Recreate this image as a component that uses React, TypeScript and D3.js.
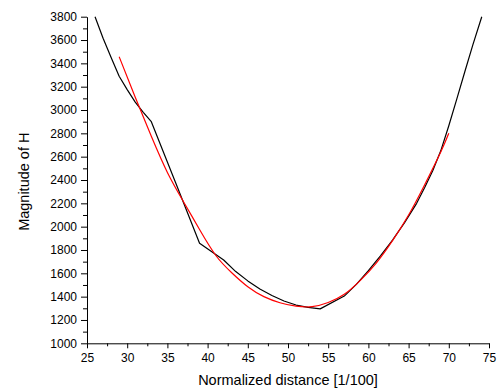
import React, { useRef, useEffect } from 'react';
import * as d3 from 'd3';

// measured curve (black)
const measuredX = [26, 27, 28, 29, 30, 31, 32, 33, 36, 39, 42, 43.5, 45, 46.5, 48, 49.5, 51, 52.5, 54, 57, 58.5, 60, 61.5, 63, 64.5, 66, 67, 68, 69, 70, 71, 72, 73, 74.1];
const measuredY = [3800, 3615, 3450, 3290, 3175, 3068, 2980, 2900, 2380, 1858, 1714, 1615, 1535, 1465, 1410, 1363, 1328, 1308, 1295, 1405, 1505, 1623, 1750, 1885, 2035, 2200, 2335, 2480, 2650, 2865, 3095, 3330, 3560, 3800];

// fitted curve (red)
const fitX = [29, 31, 33, 35, 37, 39, 41, 43, 45, 47, 49, 51, 53, 55, 57, 59, 61, 63, 65, 67, 69, 70];
const fitY = [3457, 3110, 2775, 2465, 2214, 1975, 1755, 1605, 1485, 1400, 1348, 1318, 1314, 1350, 1420, 1540, 1690, 1880, 2100, 2360, 2640, 2800];

const xTicks = [25, 30, 35, 40, 45, 50, 55, 60, 65, 70, 75];
const yTicks = [1000, 1200, 1400, 1600, 1800, 2000, 2200, 2400, 2600, 2800, 3000, 3200, 3400, 3600, 3800];

const xLabel = 'Normalized distance [1/100]';
const yLabel = 'Magnitude of H';

const W = 503;
const H = 391;
const font = '"Liberation Sans", Arial, sans-serif';

const Chart = () => {
  const svgRef = useRef<SVGSVGElement>(null);

  useEffect(() => {
    const svg = d3.select(svgRef.current);
    svg.selectAll('*').remove();

    const left = 87;
    const right = 489;
    const top = 16.7;
    const bottom = 343.3;

    const x = d3.scaleLinear().domain([25, 75]).range([left, right]);
    const y = d3.scaleLinear().domain([1000, 3800]).range([bottom, top]);

    const minorX = d3.range(25, 75.01, 2.5).filter((v) => !xTicks.includes(v));
    const minorY = d3.range(1000, 3800.01, 100).filter((v) => !yTicks.includes(v));

    // minor ticks
    svg.append('g')
      .attr('transform', `translate(0, ${bottom})`)
      .call(d3.axisBottom(x).tickValues(minorX).tickSize(3).tickFormat(() => '').tickSizeOuter(0))
      .call((g) => g.select('.domain').remove());
    svg.append('g')
      .attr('transform', `translate(${left}, 0)`)
      .call(d3.axisLeft(y).tickValues(minorY).tickSize(4).tickFormat(() => '').tickSizeOuter(0))
      .call((g) => g.select('.domain').remove());

    // major axes
    const xAxis = svg.append('g')
      .attr('transform', `translate(0, ${bottom})`)
      .call(d3.axisBottom(x).tickValues(xTicks).tickSize(5).tickPadding(5).tickSizeOuter(0).tickFormat(d3.format('d')));
    const yAxis = svg.append('g')
      .attr('transform', `translate(${left}, 0)`)
      .call(d3.axisLeft(y).tickValues(yTicks).tickSize(6).tickPadding(4).tickSizeOuter(0).tickFormat(d3.format('d')));

    [xAxis, yAxis].forEach((g) => {
      g.selectAll('text').attr('font-family', font).attr('font-size', 12).attr('fill', '#000');
      g.select('.domain').attr('stroke', '#000');
    });
    svg.selectAll('.tick line').attr('stroke', '#000');

    const line = d3.line<number>()
      .x((d) => x(measuredX[d]))
      .y((d) => y(measuredY[d]));

    const fitLine = d3.line<number>()
      .x((d) => x(fitX[d]))
      .y((d) => y(fitY[d]))
      .curve(d3.curveNatural);

    svg.append('path')
      .attr('d', line(d3.range(measuredX.length)))
      .attr('fill', 'none')
      .attr('stroke', '#000')
      .attr('stroke-width', 1.2)
      .attr('stroke-linejoin', 'round');

    svg.append('path')
      .attr('d', fitLine(d3.range(fitX.length)))
      .attr('fill', 'none')
      .attr('stroke', '#ff0000')
      .attr('stroke-width', 1.2);

    svg.append('text')
      .attr('x', (left + right) / 2)
      .attr('y', 385)
      .attr('text-anchor', 'middle')
      .attr('font-family', font)
      .attr('font-size', 14.5)
      .text(xLabel);

    svg.append('text')
      .attr('transform', `translate(29, ${181.7}) rotate(-90)`)
      .attr('text-anchor', 'middle')
      .attr('font-family', font)
      .attr('font-size', 14.5)
      .text(yLabel);
  }, []);

  return (
    <svg
      ref={svgRef}
      width={W}
      height={H}
      style={{ position: 'absolute', left: 0, top: 0, background: '#fff' }}
    />
  );
};

export default function App() {
  return <Chart />;
}
